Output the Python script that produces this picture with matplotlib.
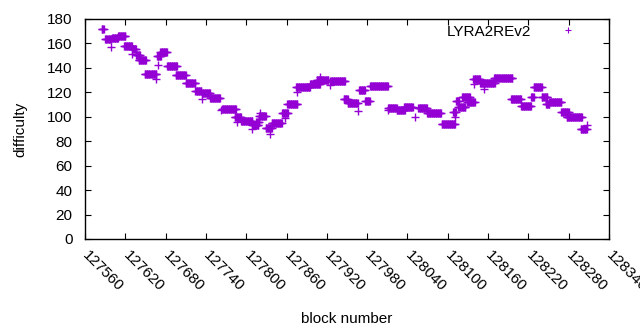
import numpy as np
import matplotlib
matplotlib.use('Agg')
import matplotlib.pyplot as plt
from matplotlib.lines import Line2D

plt.rcParams['font.family'] = ['Liberation Sans', 'DejaVu Sans']

# difficulty read as runs of consecutive blocks (first block, last block, difficulty)
run_first = [127585, 127590, 127599, 127600, 127609, 127618, 127630, 127630, 127636, 127640,
             127649, 127665, 127667, 127668, 127672, 127682, 127695, 127710, 127724, 127734,
             127734, 127746, 127762, 127764, 127783, 127787, 127792, 127809, 127809, 127815,
             127819, 127820, 127829, 127835, 127838, 127853, 127858, 127861, 127874, 127876,
             127895, 127905, 127910, 127924, 127925, 127945, 127951, 127967, 127968, 127977,
             127984, 128011, 128011, 128024, 128035, 128051, 128056, 128069, 128091, 128108,
             128111, 128112, 128115, 128121, 128129, 128138, 128139, 128148, 128154, 128169,
             128170, 128194, 128209, 128224, 128228, 128240, 128246, 128251, 128269, 128277,
             128298, 128307]
run_last = [127588, 127599, 127599, 127609, 127620, 127630, 127636, 127630, 127642, 127651,
            127666, 127665, 127673, 127668, 127682, 127697, 127710, 127724, 127733, 127734,
            127746, 127761, 127762, 127785, 127792, 127787, 127809, 127818, 127809, 127819,
            127829, 127820, 127838, 127835, 127853, 127862, 127858, 127876, 127895, 127876,
            127910, 127922, 127910, 127924, 127947, 127951, 127966, 127967, 127977, 127984,
            128011, 128024, 128011, 128036, 128048, 128051, 128069, 128090, 128111, 128112,
            128111, 128116, 128126, 128133, 128140, 128148, 128139, 128169, 128154, 128196,
            128170, 128209, 128224, 128228, 128240, 128248, 128251, 128269, 128280, 128300,
            128307, 128307]
run_difficulty = [171.5, 163.4, 156.9, 164.2, 165.9, 157.7, 155.5, 151.1, 150.5, 146.2,
                  134.8, 130.7, 150.0, 142.4, 152.8, 141.3, 133.9, 127.4, 121.5, 114.3,
                  119.2, 115.1, 105.5, 106.1, 99.8, 95.5, 96.8, 93.3, 89.8, 96.0,
                  100.6, 102.8, 90.6, 85.9, 94.7, 102.8, 98.8, 110.2, 124.6, 120.5,
                  127.1, 130.1, 132.8, 126.0, 129.5, 114.3, 111.0, 104.7, 121.7, 112.9,
                  125.4, 107.4, 105.5, 105.8, 108.2, 100.1, 107.4, 102.8, 94.1, 104.0,
                  100.0, 113.0, 108.0, 116.5, 112.5, 130.7, 126.6, 127.4, 122.7, 131.5,
                  127.6, 114.3, 108.8, 116.2, 124.1, 115.9, 110.2, 111.8, 103.7, 99.6,
                  89.8, 93.3]

blocks = np.concatenate([np.arange(a, b + 1) for a, b in zip(run_first, run_last)])
difficulty = np.concatenate([np.full(b - a + 1, d)
                             for a, b, d in zip(run_first, run_last, run_difficulty)])

xticks = np.arange(127560, 128341, 60)
yticks = np.arange(0, 181, 20)
purple = '#9400d3'

fig = plt.figure(figsize=(6.4, 3.3), dpi=100)
ax = fig.add_axes([85 / 640, 91 / 330, 524 / 640, 220 / 330])

ax.plot(blocks, difficulty, linestyle='none', marker='+', color=purple,
        markersize=6, markeredgewidth=1.0)

ax.set_xlim(127560, 128340)
ax.set_ylim(0, 180)
ax.set_xticks(xticks)
ax.set_yticks(yticks)
ax.set_xticklabels([str(t) for t in xticks], rotation=-45, ha='left', va='center',
                   rotation_mode='anchor')
ax.tick_params(direction='in', length=4, width=0.8, top=True, right=True,
               labelsize=11, colors='black')
ax.tick_params(axis='x', pad=10)
ax.tick_params(axis='y', pad=9)
for s in ax.spines.values():
    s.set_linewidth(1.0)

ax.set_xlabel('block number', fontsize=11, labelpad=13)
ax.set_ylabel('difficulty', fontsize=11, labelpad=14)

handle = Line2D([], [], linestyle='none', marker='+', color=purple,
                markersize=5, markeredgewidth=0.8)
ax.legend([handle], ['LYRA2REv2'], loc='upper right', bbox_to_anchor=(0.95, 0.975),
          frameon=False, markerfirst=False, fontsize=11, handlelength=2.0,
          handletextpad=1.4, borderpad=0, borderaxespad=0)

fig.savefig('out.png', dpi=100)
